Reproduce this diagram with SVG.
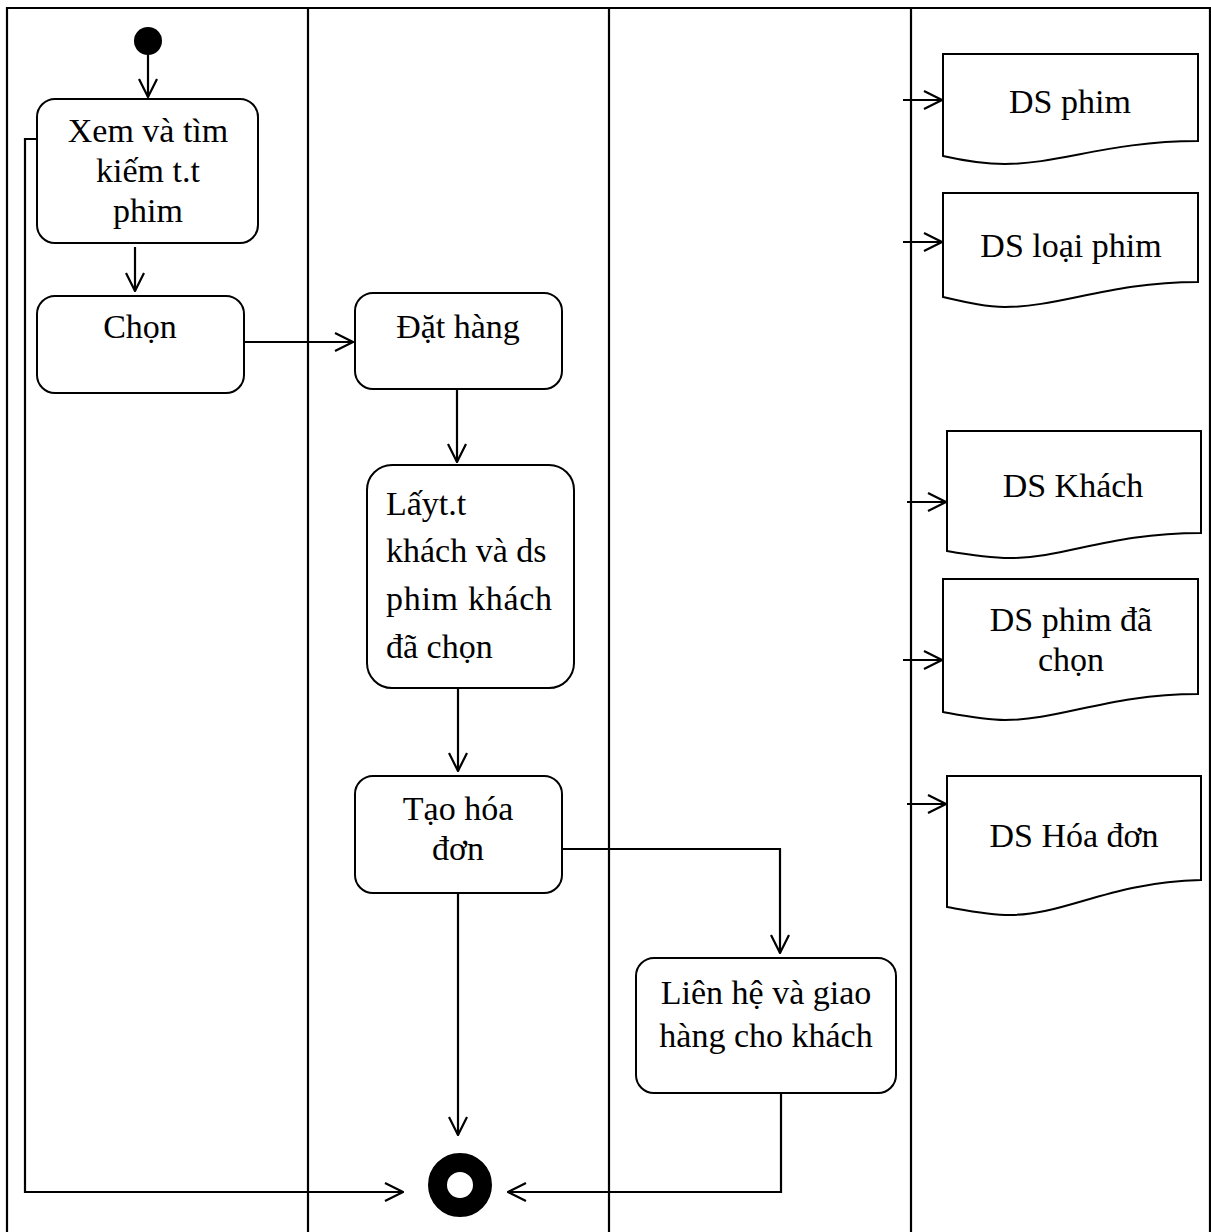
<svg xmlns="http://www.w3.org/2000/svg" width="1211" height="1232" viewBox="0 0 1211 1232">
<style>
.lane{stroke:#000;stroke-width:2.2;fill:none}
.box{fill:#fff;stroke:#000;stroke-width:2}
.doc{fill:#fff;stroke:#000;stroke-width:2}
.t{font-family:"Liberation Serif","Times New Roman",serif;font-size:34px;fill:#000}
.c{text-anchor:middle}
.edge{stroke:#000;stroke-width:2.2;fill:none}
</style>
<defs>
<marker id="arr" viewBox="0 0 20 20" refX="19" refY="10" markerWidth="20" markerHeight="20" markerUnits="userSpaceOnUse" orient="auto">
<path d="M1,1 L19,10 L1,19" fill="none" stroke="#000" stroke-width="2.2"/>
</marker>
</defs>
<rect width="1211" height="1232" fill="#fff"/>
<g id="lanes">
<path class="lane" d="M7,1232 V8 H1210 V1232"/>
<path class="lane" d="M308,8 V1232 M609,8 V1232 M911,8 V1232"/>
</g>
<g id="start"><circle cx="148" cy="41" r="14" fill="#000"/></g>
<g id="n1"><rect class="box" x="37" y="99" width="221" height="144" rx="18"/>
<text class="t c" x="148" y="142">Xem và tìm</text>
<text class="t c" x="148" y="182">kiếm t.t</text>
<text class="t c" x="148" y="222">phim</text></g>
<g id="n2"><rect class="box" x="37" y="296" width="207" height="97" rx="18"/>
<text class="t c" x="140" y="338">Chọn</text></g>
<g id="n3"><rect class="box" x="355" y="293" width="207" height="96" rx="18"/>
<text class="t c" x="458" y="338">Đặt hàng</text></g>
<g id="n4"><rect class="box" x="367" y="465" width="207" height="223" rx="25"/>
<text class="t" x="386" y="515">Lấyt.t</text>
<text class="t" x="386" y="562">khách và ds</text>
<text class="t" x="386" y="610" textLength="166" lengthAdjust="spacing">phim khách</text>
<text class="t" x="386" y="658">đã chọn</text></g>
<g id="n5"><rect class="box" x="355" y="776" width="207" height="117" rx="18"/>
<text class="t c" x="458" y="820">Tạo hóa</text>
<text class="t c" x="458" y="860">đơn</text></g>
<g id="n6"><rect class="box" x="636" y="958" width="260" height="135" rx="18"/>
<text class="t c" x="766" y="1004">Liên hệ và giao</text>
<text class="t c" x="766" y="1047">hàng cho khách</text></g>
<g id="end"><circle cx="460" cy="1185" r="22.5" fill="none" stroke="#000" stroke-width="19"/></g>
<g id="d1"><path class="doc" d="M943,54 H1198 V141 C1110,141 1060,164 1005,164 C985,164 965,161 943,156 Z"/>
<text class="t c" x="1070" y="113">DS phim</text></g>
<g id="d2"><path class="doc" d="M943,193 H1198 V282 C1110,282 1060,307 1005,307 C985,307 965,302 943,297 Z"/>
<text class="t c" x="1071" y="257">DS loại phim</text></g>
<g id="d3"><path class="doc" d="M947,431 H1201 V533 C1110,533 1065,558 1010,558 C990,558 970,555 947,551 Z"/>
<text class="t c" x="1073" y="497">DS Khách</text></g>
<g id="d4"><path class="doc" d="M943,579 H1198 V694 C1110,694 1060,720 1005,720 C985,720 965,716 943,712 Z"/>
<text class="t c" x="1071" y="631">DS phim đã</text>
<text class="t c" x="1071" y="671">chọn</text></g>
<g id="d5"><path class="doc" d="M947,776 H1201 V880 C1110,882 1065,915 1010,915 C990,915 970,911 947,907 Z"/>
<text class="t c" x="1074" y="847">DS Hóa đơn</text></g>
<g id="connectors">
<path class="edge" marker-end="url(#arr)" d="M148,55 V97"/>
<path class="edge" marker-end="url(#arr)" d="M135,247 V291"/>
<path class="edge" marker-end="url(#arr)" d="M245,342 H353"/>
<path class="edge" marker-end="url(#arr)" d="M457,389 V462"/>
<path class="edge" marker-end="url(#arr)" d="M458,688 V771"/>
<path class="edge" marker-end="url(#arr)" d="M562,849 H780 V953"/>
<path class="edge" marker-end="url(#arr)" d="M458,893 V1135"/>
<path class="edge" marker-end="url(#arr)" d="M37,139 H25 V1192 H403"/>
<path class="edge" marker-end="url(#arr)" d="M781,1093 V1192 H508"/>
<path class="edge" marker-end="url(#arr)" d="M903,100 H942"/>
<path class="edge" marker-end="url(#arr)" d="M903,242 H942"/>
<path class="edge" marker-end="url(#arr)" d="M907,502 H946"/>
<path class="edge" marker-end="url(#arr)" d="M903,660 H942"/>
<path class="edge" marker-end="url(#arr)" d="M907,804 H946"/>
</g>
</svg>
